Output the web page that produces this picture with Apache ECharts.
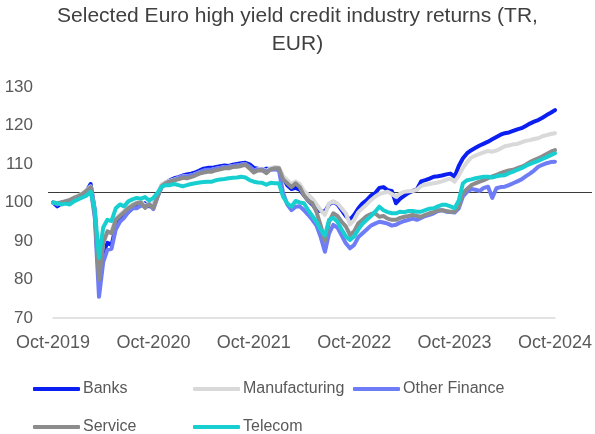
<!DOCTYPE html>
<html>
<head>
<meta charset="utf-8">
<script src="https://cdn.jsdelivr.net/npm/echarts@6/dist/echarts.min.js"></script>
<style>
  html, body { margin: 0; padding: 0; background: #ffffff; }
  #chart { width: 595px; height: 434px; }
</style>
</head>
<body>
<div id="chart"></div>
<script>
// Semi-monthly observations, Oct-2019 .. Oct-2024 (121 points), index rebased to 100
const tickLabels = ['Oct-2019', 'Oct-2020', 'Oct-2021', 'Oct-2022', 'Oct-2023', 'Oct-2024'];
const seriesNames = ['Banks', 'Manufacturing', 'Other Finance', 'Service', 'Telecom'];
const referenceLevel = 102.6;

const banks = [
  100, 99.0, 99.8, 100.3, 100.6, 101.0, 101.5, 102.2, 103.0, 104.8,
  98.0, 79.5, 87.0, 89.5, 89.0, 93.5, 95.5, 96.5, 97.5, 98.5,
  99.0, 99.5, 99.8, 99.0, 99.2, 102.0, 104.5, 105.2, 105.8, 106.3,
  106.6, 107.0, 107.3, 107.5, 107.8, 108.3, 108.8, 109.0, 109.0, 109.2,
  109.4, 109.6, 109.5, 109.8, 110.0, 110.2, 110.3, 109.9, 109.0, 108.8,
  108.5, 108.8, 108.7, 109.0, 108.8, 106.5, 104.5, 103.5, 103.8, 103.3,
  101.9, 100.5, 99.5, 98.0, 97.8, 97.6, 99.5, 100.2, 99.5, 98.0,
  96.5, 95.5, 96.8, 98.5, 99.8, 100.6, 101.8, 102.4, 103.8, 104.0,
  103.2, 103.0, 99.8, 101.0, 101.8, 102.5, 103.0, 103.4, 105.5, 105.8,
  106.2, 106.7, 106.8, 107.0, 107.3, 107.5, 106.7, 109.5, 111.5, 112.8,
  113.6, 114.2, 114.8, 115.3, 115.8, 116.4, 117.0, 117.6, 118.0, 118.2,
  118.6, 119.0, 119.3, 119.9, 120.5, 121.0, 121.4, 122.0, 122.7, 123.3,
  124.0
];

const manufacturing = [
  100, 99.9, 100.1, 100.4, 100.8, 101.3, 101.8, 102.4, 103.2, 104.2,
  97.5, 81.5, 89.5, 92.0, 92.5, 95.8, 96.8, 97.8, 98.8, 99.5,
  100.0, 100.3, 99.2, 99.8, 99.3, 102.0, 104.8, 105.3, 105.7, 106.0,
  106.4, 106.8, 106.8, 107.0, 107.4, 107.8, 108.2, 108.4, 108.5, 108.8,
  109.0, 109.2, 109.3, 109.5, 109.6, 109.8, 110.0, 109.2, 108.3, 108.7,
  108.8, 108.2, 108.9, 109.2, 109.1, 106.8, 105.8, 104.8, 105.5, 104.8,
  103.0, 102.0, 101.0, 99.5, 98.0, 96.8, 99.8, 100.2, 99.8, 98.5,
  97.2, 94.3, 95.5, 97.5, 98.5, 99.5, 100.6, 101.5, 102.2, 102.5,
  102.8, 102.2, 101.5, 102.3, 102.8, 102.9, 103.0, 103.3, 104.3, 104.6,
  104.8, 105.0, 105.2, 105.5, 105.9, 106.2, 105.4, 107.0, 109.0, 110.5,
  111.7, 112.2, 112.6, 113.0, 113.4, 113.2, 113.5, 114.0, 114.6, 114.8,
  115.1, 115.2, 115.6, 116.0, 116.2, 116.5, 116.7, 117.2, 117.5, 117.8,
  118.0
];

const otherFinance = [
  100, 99.5, 100.0, 100.2, 100.5, 101.0, 101.5, 102.0, 102.8, 103.8,
  96.0, 75.5, 84.5, 87.7, 88.0, 93.0, 95.0, 96.0, 97.5, 98.5,
  98.5, 99.2, 99.0, 99.5, 98.3, 101.5, 104.0, 105.0, 105.5, 105.8,
  106.3, 106.7, 106.8, 107.0, 107.3, 107.8, 108.3, 108.5, 108.6, 108.8,
  109.0, 109.2, 109.3, 109.5, 109.6, 109.8, 110.0, 109.3, 108.3, 108.5,
  108.6, 108.0, 108.5, 108.6, 108.4, 102.5, 99.5, 98.0, 98.9, 99.0,
  98.0, 96.8, 95.5, 94.0, 91.0, 87.2, 92.0, 94.2, 93.5, 91.5,
  89.4, 88.1, 89.0, 91.0, 92.0, 93.0, 94.0, 94.5, 95.0, 94.8,
  94.5, 94.0, 94.2, 94.8, 95.2, 95.5, 95.8, 95.5, 96.0, 96.5,
  96.8, 97.2, 97.8, 98.0, 97.6, 97.5, 97.4, 98.5, 101.6, 102.8,
  103.5, 103.3, 103.0, 103.8, 104.1, 101.2, 103.7, 104.0, 104.1, 104.5,
  105.0, 105.5, 106.0, 106.8, 107.5, 108.3, 109.3, 109.8, 110.2, 110.5,
  110.6
];

const service = [
  100, 99.8, 100.0, 100.3, 100.6, 101.2, 101.6, 102.2, 103.0, 104.0,
  97.0, 80.0, 89.5, 92.5, 92.0, 95.5, 96.5, 97.5, 98.5, 99.2,
  99.8, 100.0, 98.6, 99.5, 98.6, 101.5, 104.3, 105.0, 105.4, 105.8,
  106.0, 106.4, 106.3, 106.6, 107.0, 107.5, 107.8, 108.0, 108.0, 108.4,
  108.6, 108.9, 108.9, 109.2, 109.3, 109.5, 109.8, 108.8, 107.8, 108.3,
  108.4, 107.6, 108.6, 108.9, 108.9, 106.0, 105.0, 104.0, 105.0, 104.0,
  101.8, 100.5, 99.8, 97.5, 94.0, 90.0, 95.0, 97.2, 96.5, 95.0,
  93.8, 91.6, 92.5, 94.6, 95.5, 96.5, 97.0, 97.2, 96.3, 96.5,
  95.8, 95.5, 95.5, 96.0, 96.3, 96.5, 96.8, 96.5, 96.3, 96.8,
  97.2, 97.5, 98.0, 98.0, 97.8, 97.6, 97.6, 99.0, 102.4, 103.5,
  104.5, 105.0, 105.4, 105.8, 106.3, 106.8, 107.2, 107.6, 108.0, 108.3,
  108.5, 108.9, 109.3, 109.8, 110.5, 111.0, 111.5, 112.0, 112.6, 113.2,
  113.6
];

const telecom = [
  100, 99.8, 99.5, 99.7, 99.5, 100.3, 100.8, 101.3, 101.8, 102.8,
  98.0, 85.6, 93.5, 95.5, 95.2, 98.5, 99.5, 99.0, 100.3, 100.8,
  101.2, 101.0, 101.4, 100.5, 101.2, 102.5, 104.1, 104.5, 104.5, 104.8,
  104.5, 104.2, 104.5, 104.8, 105.0, 105.2, 105.3, 105.4, 105.4, 105.8,
  106.0, 106.1, 106.3, 106.4, 106.5, 106.7, 106.5, 105.8, 105.4, 105.2,
  105.1, 104.6, 105.1, 105.0, 105.0, 101.5, 99.8, 98.9, 100.4, 100.0,
  99.8, 98.0, 96.5, 95.0, 92.9, 91.4, 95.5, 96.0, 95.0, 93.0,
  91.2, 90.3, 91.2, 93.0, 94.5, 95.5, 96.5, 97.6, 98.9, 98.0,
  97.5, 97.2, 97.2, 97.6, 97.5, 97.8, 97.8, 97.6, 97.6, 98.0,
  98.4, 98.5, 99.0, 99.4, 99.4, 99.0, 98.5, 100.5, 105.0, 105.8,
  106.0, 106.3, 106.5, 106.7, 106.7, 106.5, 106.8, 107.0, 107.1, 107.6,
  108.0, 108.5, 108.9, 109.5, 110.0, 110.4, 110.8, 111.3, 111.8, 112.3,
  112.8
];

const seriesColors = ['#0b1ff2', '#d9d9d9', '#6e7cf6', '#8c8c8c', '#17cfd0'];

// Category axis: one entry per half month, starting 1 Oct 2019
const dates = [];
for (let i = 0; i < banks.length; i++) {
  const monthIndex = 9 + Math.floor(i / 2);
  const y = 2019 + Math.floor(monthIndex / 12);
  const m = (monthIndex % 12) + 1;
  const d = i % 2 === 0 ? '01' : '16';
  dates.push(y + '-' + String(m).padStart(2, '0') + '-' + d);
}

const font = 'Liberation Sans, Arial, sans-serif';
const textColor = '#595959';

const valueSets = [banks, manufacturing, otherFinance, service, telecom];
const lineSeries = seriesNames.map((name, k) => ({
  name: name,
  type: 'line',
  xAxisIndex: 0,
  yAxisIndex: 0,
  data: valueSets[k],
  showSymbol: false,
  symbol: 'none',
  smooth: false,
  lineStyle: { color: seriesColors[k], width: 4, cap: 'round', join: 'round' },
  itemStyle: { color: seriesColors[k] },
  z: 2 + k,
  animation: false
}));

// Reference level drawn across the full width on its own overlay axes
lineSeries.push({
  name: 'level',
  type: 'line',
  xAxisIndex: 1,
  yAxisIndex: 1,
  data: [[0, referenceLevel], [1, referenceLevel]],
  showSymbol: false,
  symbol: 'none',
  lineStyle: { color: '#3a3a3a', width: 1.2 },
  z: 1,
  silent: true,
  animation: false
});

// One legend block per entry, laid out in a fixed 3-column grid
const legendSlots = [
  { name: 'Banks', left: 33, top: 381 },
  { name: 'Manufacturing', left: 193, top: 381 },
  { name: 'Other Finance', left: 353, top: 381 },
  { name: 'Service', left: 33, top: 419 },
  { name: 'Telecom', left: 193, top: 419 }
];
const legends = legendSlots.map(s => ({
  data: [s.name],
  left: s.left,
  top: s.top,
  padding: 0,
  icon: 'roundRect',
  itemWidth: 47,
  itemHeight: 4,
  itemGap: 0,
  selectedMode: false,
  textStyle: { color: textColor, fontSize: 16, fontFamily: font, padding: [0, 0, 0, -2] }
}));

const chart = echarts.init(document.getElementById('chart'), null, { renderer: 'canvas' });
chart.setOption({
  backgroundColor: '#ffffff',
  animation: false,
  title: {
    text: 'Selected Euro high yield credit industry returns (TR,\nEUR)',
    left: 'center',
    top: -3,
    textStyle: { color: '#404040', fontSize: 21, fontWeight: 'normal', fontFamily: font, lineHeight: 28 }
  },
  legend: legends,
  grid: [
    { left: 53, right: 38, top: 87, bottom: 116, containLabel: false },
    { left: 48, right: 3, top: 87, bottom: 116, containLabel: false }
  ],
  xAxis: [
    {
      type: 'category',
      gridIndex: 0,
      data: dates,
      boundaryGap: false,
      axisLine: { lineStyle: { color: '#d9d9d9', width: 1.5 } },
      axisTick: { show: false },
      splitLine: { show: false },
      axisLabel: {
        interval: 23,
        color: textColor,
        fontSize: 18,
        fontFamily: font,
        margin: 16,
        showMaxLabel: true,
        formatter: (v, idx) => tickLabels[Math.round(idx / 24)] || ''
      }
    },
    { type: 'value', gridIndex: 1, min: 0, max: 1, show: false }
  ],
  yAxis: [
    {
      type: 'value',
      gridIndex: 0,
      min: 70,
      max: 130,
      interval: 10,
      axisLine: { show: false },
      axisTick: { show: false },
      splitLine: { show: false },
      axisLabel: { color: textColor, fontSize: 17, fontFamily: font, margin: 20 }
    },
    { type: 'value', gridIndex: 1, min: 70, max: 130, show: false }
  ],
  series: lineSeries
});
</script>
</body>
</html>
